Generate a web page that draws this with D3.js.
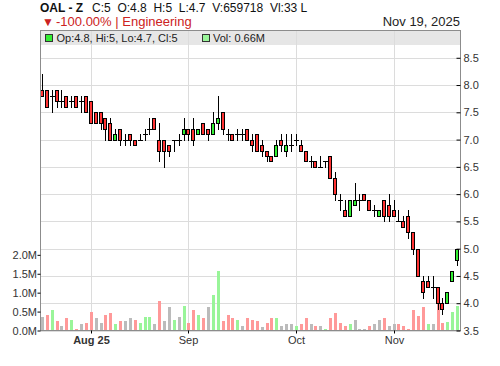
<!DOCTYPE html>
<html><head><meta charset="utf-8">
<script src="https://cdn.jsdelivr.net/npm/d3@7"></script>
<style>
body{margin:0;background:#fff;}
svg{display:block;font-family:"Liberation Sans",Arial,sans-serif;}
</style></head>
<body><svg id="c" width="500" height="366"></svg>
<script>
// ---- data ----
const opens  = [7.9,7.9,7.8,7.9,7.7,7.8,7.7,7.8,7.7,7.8,7.7,7.5,7.5,7.4,7.3,7.0,7.2,7.0,7.1,7.0,7.0,7.1,7.2,7.4,7.0,7.0,6.9,7.0,7.0,7.1,7.2,7.2,7.1,7.3,7.2,7.1,7.3,7.5,7.1,7.1,7.1,7.1,7.2,7.0,7.1,6.9,6.8,6.7,6.7,7.0,6.8,6.9,7.0,6.9,6.8,6.6,6.6,6.5,6.6,6.7,6.3,5.9,5.7,5.6,5.8,5.9,6.0,5.9,5.7,5.6,5.9,5.8,5.7,5.5,5.5,5.6,5.3,5.0,4.4,4.4,4.3,4.3,4.0,4.0,4.4,4.8];
const highs  = [8.2,7.9,7.9,7.9,7.9,7.8,7.8,7.8,7.8,7.8,7.7,7.5,7.5,7.4,7.4,7.2,7.2,7.1,7.1,7.0,7.1,7.2,7.4,7.4,7.3,7.0,6.9,7.0,7.1,7.4,7.2,7.4,7.2,7.3,7.2,7.5,7.8,7.5,7.2,7.1,7.2,7.2,7.2,7.1,7.1,7.0,6.8,6.7,7.0,7.1,7.1,7.1,7.1,7.0,6.8,6.7,6.6,6.7,6.6,6.7,6.4,6.0,5.9,5.9,6.2,6.0,6.0,5.9,5.8,5.7,5.9,6.0,5.9,5.7,5.6,5.7,5.3,5.0,4.5,4.5,4.5,4.3,4.1,4.2,4.6,5.0];
const lows   = [7.8,7.6,7.5,7.6,7.6,7.6,7.6,7.6,7.5,7.5,7.3,7.3,7.2,7.0,7.0,7.0,6.9,6.9,6.9,6.9,7.0,7.0,7.1,7.2,6.6,6.5,6.7,6.8,6.9,7.0,7.0,6.9,7.1,7.1,7.0,7.1,7.2,7.1,7.0,7.0,7.0,7.0,7.0,6.8,6.8,6.7,6.6,6.6,6.7,6.8,6.7,6.8,6.9,6.8,6.6,6.5,6.5,6.5,6.5,6.3,5.9,5.7,5.6,5.6,5.8,5.7,5.9,5.7,5.6,5.6,5.5,5.5,5.6,5.5,5.4,5.2,4.9,4.5,4.1,4.3,4.1,3.9,3.8,4.0,4.4,4.7];
const closes = [7.8,7.6,7.8,7.7,7.7,7.6,7.7,7.6,7.7,7.5,7.3,7.3,7.3,7.2,7.0,7.1,7.0,7.0,7.0,6.9,7.0,7.1,7.2,7.2,6.8,6.8,6.8,7.0,7.0,7.2,7.1,7.0,7.2,7.1,7.1,7.3,7.4,7.2,7.1,7.0,7.1,7.1,7.0,6.9,6.8,6.8,6.7,6.6,6.9,6.9,6.9,6.9,7.0,6.8,6.6,6.6,6.5,6.5,6.6,6.3,6.0,5.9,5.6,5.9,5.9,5.9,5.9,5.7,5.7,5.7,5.6,5.6,5.6,5.5,5.4,5.3,5.0,4.5,4.2,4.3,4.3,4.0,3.9,4.2,4.6,5.0];
const volumesM = [0.37,0.42,0.53,0.26,0.11,0.34,0.28,0.03,0.16,0.21,0.48,0.32,0.19,0.41,0.46,0.16,0.26,0.24,0.32,0.29,0.19,0.37,0.35,0.16,0.77,0.26,0.61,0.29,0.37,0.66,0.19,0.55,0.42,0.34,0.62,0.95,1.58,0.24,0.40,0.34,0.29,0.11,0.32,0.29,0.24,0.08,0.21,0.32,0.34,0.11,0.16,0.18,0.13,0.18,0.34,0.16,0.11,0.13,0.03,0.34,0.45,0.21,0.13,0.16,0.29,0.03,0.03,0.13,0.16,0.29,0.34,0.11,0.18,0.18,0.13,0.05,0.53,0.39,0.61,0.18,0.16,0.72,0.19,0.22,0.48,0.66];
// change of close vs previous close: 1 up, -1 down, 0 flat
const volDir = [0,-1,1,-1,0,-1,1,-1,0,-1,-1,0,0,-1,-1,1,-1,0,0,-1,1,1,1,0,-1,0,0,1,0,1,-1,-1,1,-1,0,1,1,-1,-1,-1,1,0,-1,-1,-1,0,-1,-1,1,0,0,0,1,-1,-1,0,-1,0,1,-1,-1,-1,-1,1,0,0,0,-1,0,0,-1,0,0,-1,-1,-1,-1,-1,-1,1,0,-1,-1,1,1,1];
const tickLabels = ["Aug 25","Sep","Oct","Nov"];
const tickIndex  = [10,30,52,72];
const priceTicks = [3.5,4.0,4.5,5.0,5.5,6.0,6.5,7.0,7.5,8.0,8.5];
const volTicks   = [0,0.5,1.0,1.5,2.0];
const headerItems = ["C:5","O:4.8","H:5","L:4.7","V:659718","Vl:33 L"];

// ---- layout ----
const L=40,R=460,T=30.5,B=330.5;
const N=closes.length;
const svg=d3.select("#c");
const x=d3.scaleLinear().domain([-0.5,N-0.5]).range([L,R]);
const y=d3.scaleLinear().domain([3.5,9.0]).range([B,T]);
const yv=d3.scaleLinear().domain([0,7.93]).range([B,T]);
const px=i=>Math.floor(x(i));

// legend band
svg.append("rect").attr("x",L).attr("y",31).attr("width",R-L).attr("height",14).attr("fill","#e6e6e6");

// grid
const g=svg.append("g").attr("stroke","#dcdcdc").attr("stroke-width",1).attr("shape-rendering","crispEdges");
priceTicks.forEach(p=>g.append("line").attr("x1",L).attr("x2",R).attr("y1",Math.round(y(p))+0.5).attr("y2",Math.round(y(p))+0.5));
tickIndex.forEach(i=>g.append("line").attr("x1",px(i)+0.5).attr("x2",px(i)+0.5).attr("y1",T).attr("y2",B));

// volume bars
const vcol={"1":"#99f599","-1":"#ff9999","0":"#bbbbbb"};
svg.append("g").attr("shape-rendering","crispEdges").selectAll("rect").data(volumesM).join("rect")
  .attr("x",(d,i)=>px(i)-1).attr("width",3)
  .attr("y",d=>Math.round(yv(d))).attr("height",d=>Math.max(0,Math.round(yv(0))-Math.round(yv(d))))
  .attr("fill",(d,i)=>vcol[volDir[i]]);

// candles
const cg=svg.append("g").attr("shape-rendering","crispEdges");
for(let i=0;i<N;i++){
  const cx=px(i)+0.5;
  cg.append("line").attr("x1",cx).attr("x2",cx).attr("y1",Math.round(y(highs[i]))).attr("y2",Math.round(y(lows[i]))+1)
    .attr("stroke","#000").attr("stroke-width",1);
  const o=opens[i],c=closes[i];
  if(o===c){
    const yy=Math.round(y(o))+0.5;
    cg.append("line").attr("x1",cx-2.5).attr("x2",cx+2.5).attr("y1",yy).attr("y2",yy).attr("stroke","#000");
  }else{
    const top=Math.round(y(Math.max(o,c)))+0.5, bot=Math.round(y(Math.min(o,c)))+0.5;
    cg.append("rect").attr("x",cx-2).attr("width",3).attr("y",top).attr("height",bot-top)
      .attr("fill",c>o?"#33ee33":"#ff3333").attr("stroke","#000").attr("stroke-width",1);
  }
}

// frame
const f=svg.append("g").attr("stroke","#8c8c8c").attr("shape-rendering","crispEdges").attr("fill","none");
f.append("rect").attr("x",L+0.5).attr("y",T).attr("width",R-L).attr("height",B-T);

// right price axis
const ra=svg.append("g").attr("transform",`translate(${R+0.5},0)`)
  .call(d3.axisRight(y).tickValues(priceTicks).tickFormat(d3.format(".1f")).tickSizeInner(-4).tickSizeOuter(0).tickPadding(3));
ra.select(".domain").remove();
ra.selectAll("line").attr("stroke","#000");
ra.selectAll("text").attr("font-size",11).attr("fill","#333").attr("font-family","Liberation Sans, Arial");

// left volume axis
const la=svg.append("g").attr("transform",`translate(${L+0.5},0)`)
  .call(d3.axisLeft(yv).tickValues(volTicks).tickFormat(d=>d.toFixed(1)+"M").tickSizeInner(3).tickSizeOuter(0).tickPadding(0.5));
la.select(".domain").remove();
la.selectAll("line").attr("stroke","#000");
la.selectAll("text").attr("font-size",11).attr("fill","#333").attr("font-family","Liberation Sans, Arial");

// bottom axis
const ba=svg.append("g").attr("transform",`translate(0,${B})`)
  .call(d3.axisBottom(x).tickValues(tickIndex).tickFormat((d,k)=>tickLabels[k]).tickSizeInner(3).tickSizeOuter(0).tickPadding(2.5));
ba.select(".domain").remove();
ba.selectAll(".tick").attr("transform",d=>`translate(${px(d)+0.5},0)`);
ba.selectAll("line").attr("stroke","#000");
ba.selectAll("text").attr("font-size",11).attr("fill","#333").attr("font-family","Liberation Sans, Arial")
  .attr("font-weight",(d,k)=>k===0?"bold":"normal");

// header
const H=svg.append("g");
H.append("text").attr("x",40).attr("y",12).attr("font-size",12).attr("font-weight","bold").attr("fill","#111").text("OAL - Z");
let hx=92;
headerItems.forEach(t=>{
  const el=H.append("text").attr("x",hx).attr("y",12).attr("font-size",12).attr("fill","#111").text(t);
  hx+=el.node().getComputedTextLength()+6.7;
});
H.append("text").attr("x",42).attr("y",25.5).attr("fill","#cc2222").attr("font-size",12).text("▼");
H.append("text").attr("x",56).attr("y",25.5).attr("fill","#cc2222").attr("font-size",13).text("-100.00% | Engineering");
H.append("text").attr("x",460).attr("y",25.5).attr("text-anchor","end").attr("font-size",13).attr("fill","#222").text("Nov 19, 2025");

// legend
const lg=svg.append("g").attr("font-size",11).attr("fill","#222");
lg.append("rect").attr("x",45.5).attr("y",34.5).attr("width",7).attr("height",7).attr("fill","#33ee33").attr("stroke","#333");
lg.append("text").attr("x",56.5).attr("y",42).text("Op:4.8, Hi:5, Lo:4.7, Cl:5");
lg.append("rect").attr("x",202.5).attr("y",34.5).attr("width",7).attr("height",7).attr("fill","#99f599").attr("stroke","#333");
lg.append("text").attr("x",213).attr("y",42).text("Vol: 0.66M");
</script></body></html>
